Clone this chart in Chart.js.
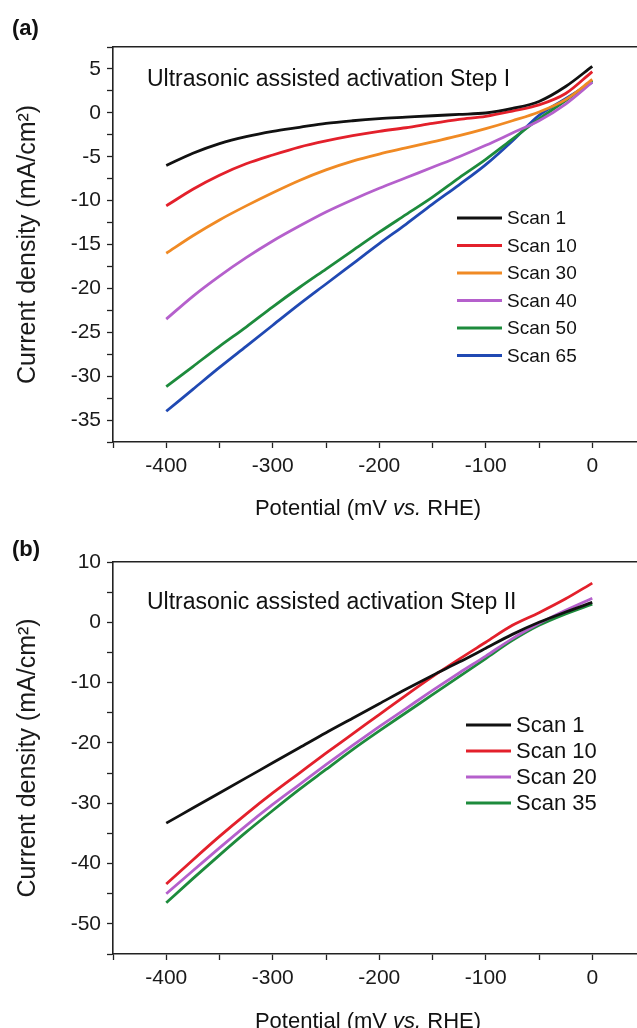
<!DOCTYPE html>
<html>
<head>
<meta charset="utf-8">
<script src="https://cdn.jsdelivr.net/npm/chart.js@4.4.1/dist/chart.umd.min.js"></script>
<style>
  html, body { margin: 0; padding: 0; background: #fff; }
  body { width: 637px; height: 1028px; position: relative; overflow: hidden; }
  canvas { position: absolute; left: 0; }
  .tag { position: absolute; left: 12px; font: bold 22px "Liberation Sans", Arial, sans-serif; color: #111; z-index: 2; }
</style>
</head>
<body>
<canvas id="chartA" style="top:0" width="637" height="520"></canvas>
<canvas id="chartB" style="top:520px" width="637" height="508"></canvas>
<div class="tag" style="top:15px">(a)</div>
<div class="tag" style="top:536px">(b)</div>
<script>
// Potential axis (mV vs. RHE), shared by both panels
const potential = [-400, -375, -350, -325, -300, -275, -250, -225, -200, -175, -150, -125, -100, -75, -50, -25, 0];
const xTicks = [-450, -400, -350, -300, -250, -200, -150, -100, -50, 0];

// Panel (a): Step I, current density (mA/cm2)
const labelsA = ["Scan 1", "Scan 10", "Scan 30", "Scan 40", "Scan 50", "Scan 65"];
const a_scan1  = [-6.0, -4.6, -3.5, -2.7, -2.1, -1.65, -1.2, -0.9, -0.67, -0.5, -0.33, -0.18, -0.02, 0.5, 1.3, 3.0, 5.3];
const a_scan10 = [-10.6, -8.7, -7.1, -5.8, -4.8, -3.9, -3.2, -2.6, -2.1, -1.7, -1.2, -0.75, -0.4, 0.2, 0.9, 2.2, 4.7];
const a_scan30 = [-16.0, -14.0, -12.2, -10.6, -9.1, -7.7, -6.5, -5.5, -4.7, -4.0, -3.3, -2.6, -1.8, -0.9, 0.1, 1.5, 3.8];
const a_scan40 = [-23.5, -20.9, -18.6, -16.5, -14.6, -12.9, -11.3, -9.9, -8.6, -7.4, -6.2, -5.0, -3.7, -2.3, -0.9, 1.0, 3.5];
const a_scan50 = [-31.2, -28.9, -26.6, -24.4, -22.1, -19.9, -17.8, -15.7, -13.6, -11.6, -9.6, -7.4, -5.3, -3.0, -0.7, 1.4, 3.7];
const a_scan65 = [-34.0, -31.5, -29.0, -26.6, -24.2, -21.8, -19.5, -17.2, -14.9, -12.7, -10.4, -8.2, -5.9, -3.2, -0.3, 1.6, 3.5];
const yTicksA = [-37.5, -35, -32.5, -30, -27.5, -25, -22.5, -20, -17.5, -15, -12.5, -10, -7.5, -5, -2.5, 0, 2.5, 5, 7.5];

// Panel (b): Step II
const labelsB = ["Scan 1", "Scan 10", "Scan 20", "Scan 35"];
const b_scan1  = [-33.3, -30.8, -28.3, -25.8, -23.3, -20.8, -18.3, -15.9, -13.5, -11.1, -8.8, -6.6, -4.3, -2.0, 0.0, 1.7, 3.3];
const b_scan10 = [-43.4, -39.4, -35.5, -31.8, -28.3, -25.0, -21.7, -18.5, -15.3, -12.1, -9.0, -6.1, -3.3, -0.5, 1.6, 3.9, 6.5];
const b_scan20 = [-45.0, -41.2, -37.4, -33.7, -30.2, -26.9, -23.6, -20.4, -17.3, -14.3, -11.3, -8.4, -5.6, -2.7, -0.2, 2.0, 4.0];
const b_scan35 = [-46.5, -42.5, -38.6, -34.8, -31.2, -27.7, -24.4, -21.1, -18.0, -15.0, -12.0, -9.0, -6.0, -3.0, -0.5, 1.4, 3.0];
const yTicksB = [-55, -50, -45, -40, -35, -30, -25, -20, -15, -10, -5, 0, 5, 10];

const colorsA = ["#111111", "#e3202b", "#f08a24", "#b560cc", "#1d8b3c", "#2049b3"];
const colorsB = ["#111111", "#e3202b", "#b560cc", "#1d8b3c"];

const FONT = '"Liberation Sans", Arial, sans-serif';

// annotation, in-plot legend and the mixed-style x title
const decor = {
  id: "decor",
  afterDatasetsDraw(chart, args, o) {
    const ctx = chart.ctx, area = chart.chartArea;
    ctx.save();
    ctx.fillStyle = "#111";
    ctx.textBaseline = "middle";
    ctx.font = "23px " + FONT;
    ctx.fillText(o.note, area.left + o.noteDx, area.top + o.noteDy);

    ctx.font = o.legendSize + "px " + FONT;
    chart.data.datasets.forEach((ds, i) => {
      const y = o.legendY + i * o.rowGap;
      ctx.strokeStyle = ds.borderColor;
      ctx.lineWidth = 3;
      ctx.beginPath();
      ctx.moveTo(o.legendX, y);
      ctx.lineTo(o.legendX + 45, y);
      ctx.stroke();
      ctx.fillText(ds.label, o.legendX + 50, y + 1);
    });

    const parts = [["Potential (mV ", ""], ["vs.", "italic "], [" RHE)", ""]];
    let w = 0;
    parts.forEach(p => { ctx.font = p[1] + "22px " + FONT; w += ctx.measureText(p[0]).width; });
    let x = o.titleX - w / 2;
    const ty = area.bottom + o.titleDy;
    parts.forEach(p => {
      ctx.font = p[1] + "22px " + FONT;
      ctx.fillText(p[0], x, ty);
      x += ctx.measureText(p[0]).width;
    });
    ctx.restore();
  }
};

function makePanel(id, labels, series, colors, yTicks, yStep, yMin, yMax, layout, decorOpts) {
  const datasets = series.map((vals, i) => ({
    label: labels[i],
    data: potential.map((p, k) => ({ x: p, y: vals[k] })),
    borderColor: colors[i],
    borderWidth: 2.8,
    pointRadius: 0,
    cubicInterpolationMode: "monotone",
    fill: false
  }));
  const axisColor = "#222";
  return new Chart(document.getElementById(id), {
    type: "line",
    data: { datasets },
    plugins: [decor],
    options: {
      responsive: false,
      animation: false,
      devicePixelRatio: 1,
      layout: { padding: { top: layout.top, right: 0, bottom: 0, left: 0 } },
      plugins: {
        legend: { display: false },
        tooltip: { enabled: false },
        decor: decorOpts
      },
      scales: {
        x: {
          type: "linear",
          min: -450,
          max: 42,
          afterBuildTicks: s => { s.ticks = xTicks.map(v => ({ value: v })); },
          afterFit: s => { s.height = layout.xHeight; },
          grid: { display: true, drawOnChartArea: false, drawTicks: true, tickLength: 6, tickWidth: 1.3, tickColor: axisColor },
          border: { display: true, color: axisColor, width: 1.6 },
          ticks: {
            autoSkip: false, maxRotation: 0, padding: 6, color: "#1a1a1a",
            font: { family: FONT, size: 21 },
            callback: v => (v % 100 === 0 ? String(v) : "")
          }
        },
        xTop: {
          type: "linear",
          position: "top",
          min: -450,
          max: 42,
          afterFit: s => { s.height = 0; },
          grid: { display: false, drawTicks: false },
          border: { display: true, color: axisColor, width: 1.6 },
          ticks: { display: false }
        },
        y: {
          type: "linear",
          min: yMin,
          max: yMax,
          afterBuildTicks: s => { s.ticks = yTicks.map(v => ({ value: v })); },
          afterFit: s => { s.width = 113; },
          grid: { display: true, drawOnChartArea: false, drawTicks: true, tickLength: 6, tickWidth: 1.3, tickColor: axisColor },
          border: { display: true, color: axisColor, width: 1.6 },
          ticks: {
            autoSkip: false, padding: 6, color: "#1a1a1a",
            font: { family: FONT, size: 21 },
            callback: v => (Math.abs(v % yStep) < 1e-9 ? String(v) : "")
          },
          title: {
            display: true,
            text: "Current density (mA/cm\u00B2)",
            color: "#1a1a1a",
            font: { family: FONT, size: 25 },
            padding: { top: 13, bottom: 0 }
          }
        }
      }
    }
  });
}

makePanel("chartA", labelsA, [a_scan1, a_scan10, a_scan30, a_scan40, a_scan50, a_scan65], colorsA,
  yTicksA, 5, -37.5, 7.5,
  { top: 47, xHeight: 78 },
  { note: "Ultrasonic assisted activation Step I", noteDx: 34, noteDy: 33,
    legendX: 457, legendY: 218, rowGap: 27.5, legendSize: 19, titleX: 368, titleDy: 67 });

makePanel("chartB", labelsB, [b_scan1, b_scan10, b_scan20, b_scan35], colorsB,
  yTicksB, 10, -55, 10,
  { top: 42, xHeight: 74 },
  { note: "Ultrasonic assisted activation Step II", noteDx: 34, noteDy: 41,
    legendX: 466, legendY: 205, rowGap: 26, legendSize: 22, titleX: 368, titleDy: 68 });
</script>
</body>
</html>
